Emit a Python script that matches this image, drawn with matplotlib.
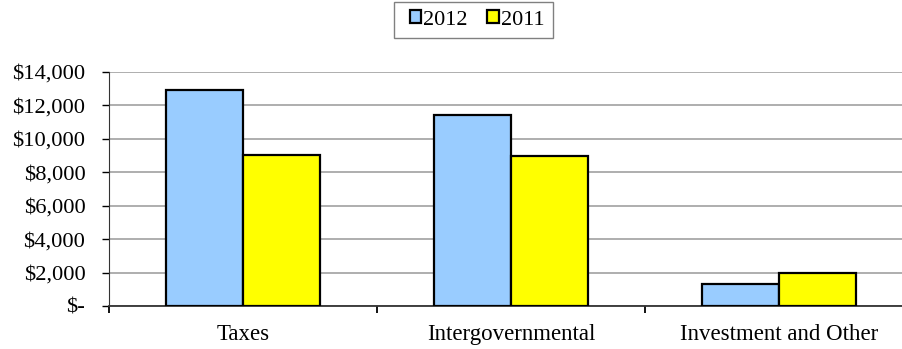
import matplotlib
matplotlib.use("Agg")
import numpy as np
import matplotlib.pyplot as plt
from matplotlib.patches import Patch, Rectangle
from matplotlib.ticker import FuncFormatter, FixedLocator

categories = ["Taxes", "Intergovernmental", "Investment and Other"]
series_names = ["2012", "2011"]
values_2012 = [12900, 11420, 1340]
values_2011 = [9020, 8980, 1990]
colors = ["#99ccff", "#ffff00"]

plt.rcParams["font.family"] = ["Liberation Serif", "DejaVu Serif"]

fig = plt.figure(figsize=(9.03, 3.49), dpi=100)
W, H = 903.0, 349.0
ax = fig.add_axes([109 / W, (H - 306) / H, (913 - 109) / W, 234 / H])

x = np.arange(len(categories))
w = 0.2857
ax.bar(x - w / 2, values_2012, w, color=colors[0], edgecolor="black", linewidth=1.6, zorder=3)
ax.bar(x + w / 2, values_2011, w, color=colors[1], edgecolor="black", linewidth=1.6, zorder=3)

ax.set_xlim(-0.5, 2.5)
ax.set_ylim(0, 14000)
ax.set_yticks(np.arange(0, 14001, 2000))
ax.yaxis.set_major_formatter(FuncFormatter(lambda v, p: "$-" if v == 0 else "${:,.0f}".format(v)))
ax.grid(axis="y", color="#999999", linewidth=1.1, zorder=0)
ax.set_axisbelow(True)

ax.set_xticks(x)
ax.set_xticklabels(categories)
ax.xaxis.set_minor_locator(FixedLocator([-0.5, 0.5, 1.5]))
ax.tick_params(axis="x", which="major", length=0, pad=13, labelsize=16.5)
ax.tick_params(axis="x", which="minor", length=5, width=1.3, direction="out")
ax.tick_params(axis="y", length=5, width=1.0, direction="out", pad=12, labelsize=16.2)

for s in ["top", "right"]:
    ax.spines[s].set_visible(False)
ax.spines["left"].set_color("#333333")
ax.spines["bottom"].set_color("#333333")
ax.spines["bottom"].set_linewidth(1.3)

# legend box drawn separately, like Excel's padded legend frame
fig.patches.append(Rectangle((394 / W, 1 - 38 / H), 159 / W, 36 / H, transform=fig.transFigure,
                             facecolor="white", edgecolor="#808080", linewidth=1.0))
handles = [Patch(facecolor=c, edgecolor="black", linewidth=1.6) for c in colors]
fig.legend(handles, series_names, loc="center", bbox_to_anchor=(477 / W, 1 - 20 / H),
           ncol=2, fontsize=16, frameon=False,
           handlelength=0.5, handleheight=0.5, handletextpad=0.1, columnspacing=0.9,
           borderpad=0, borderaxespad=0)

fig.savefig("out.png", dpi=100)
